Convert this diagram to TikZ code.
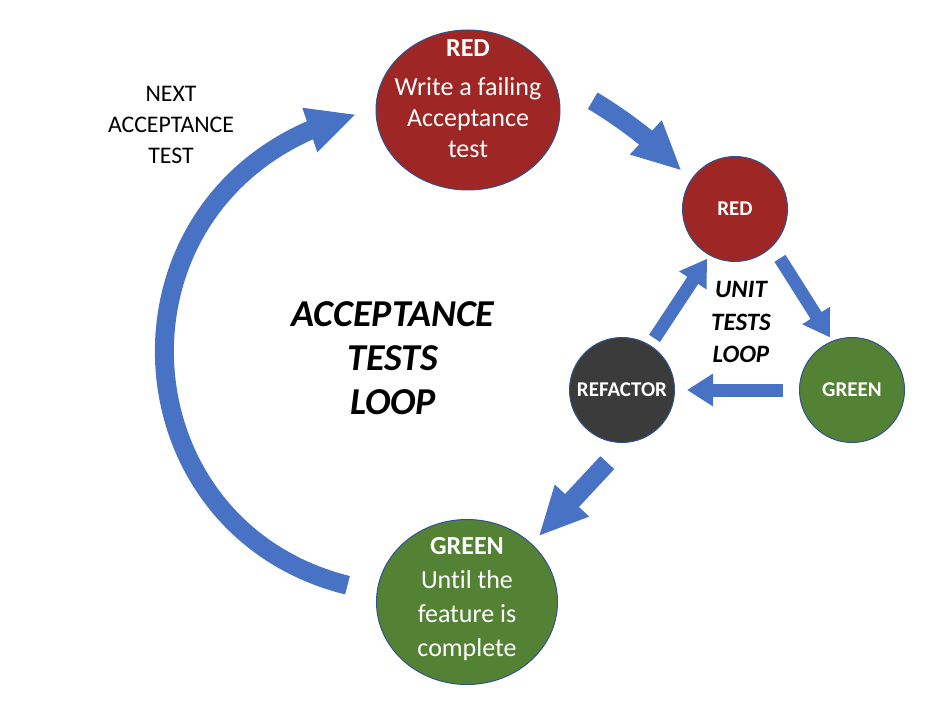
\documentclass[tikz,border=0pt]{standalone}
\usepackage{fontspec}
\setmainfont{Carlito}[Ligatures={NoCommon}]
\usetikzlibrary{arrows.meta,bending,shapes.geometric}
\definecolor{tddred}{RGB}{158,38,36}
\definecolor{tddgreen}{RGB}{84,130,53}
\definecolor{tddgrey}{RGB}{59,59,59}
\definecolor{tddblue}{RGB}{72,114,196}
\definecolor{tddline}{RGB}{47,82,143}

\begin{document}
\begin{tikzpicture}[x=1pt,y=1pt,
  bigdisc/.style={draw=tddline,line width=1pt,ellipse,inner sep=0pt},
  smalldisc/.style={draw=tddline,line width=1pt,circle,minimum size=105pt,inner sep=0pt,
    text=white,font=\fontsize{21}{25}\selectfont\bfseries},
  bigtext/.style={text=white,align=center},
  bigflow/.style={draw=tddblue,line width=19pt,-{Triangle[length=49pt,width=43pt]}},
  smallflow/.style={draw=tddblue,line width=13pt,-{Triangle[length=26pt,width=31pt]}}]
\useasboundingbox (0,0) rectangle (938,-714);

\node[bigdisc,fill=tddred,minimum width=184pt,minimum height=160pt] (bigred) at (468,-110) {};
\node[bigdisc,fill=tddgreen,minimum width=181pt,minimum height=165pt] (biggreen) at (467,-602) {};
\node[smalldisc,fill=tddred] (smallred) at (735,-209) {RED};
\node[smalldisc,fill=tddgreen] (smallgreen) at (852,-390) {GREEN};
\node[smalldisc,fill=tddgrey] (refactor) at (622,-390) {REFACTOR};

\node[bigtext,font=\fontsize{26}{31}\selectfont] (bigredtext) at (468,-99)
  {\textbf{RED}\\[8pt]Write a failing\\Acceptance\\test};
\node[bigtext,font=\fontsize{26}{34}\selectfont] (biggreentext) at (467,-599)
  {\textbf{GREEN}\\Until the\\feature is\\complete};

\node[align=center,font=\fontsize{23.8}{31}\selectfont] (nexttest) at (171,-125)
  {NEXT\\ACCEPTANCE\\TEST};
\node[align=center,font=\fontsize{38}{44}\selectfont\bfseries\itshape] (accloop) at (393,-358)
  {ACCEPTANCE\\TESTS\\LOOP};
\node[align=center,font=\fontsize{25}{32.5}\selectfont\bfseries\itshape] (unitloop) at (741,-322)
  {UNIT\\TESTS\\LOOP};

% acceptance loop
\path[draw,bigflow,shorten <=30pt,shorten >=20pt] (biggreen.174) to[out=166,in=191,looseness=1.51] (bigred.west);
\path[draw,bigflow,shorten <=45pt,shorten >=13pt] (bigred.20) to[out=-29,in=133] (smallred.147);
\path[draw,bigflow,shorten <=27pt,shorten >=10pt] (refactor.274) -- (biggreen.42);

% unit tests loop
\path[draw,smallflow,shorten <=14pt,shorten >=4pt] (smallred.-45) -- (smallgreen.112);
\path[draw,smallflow,shorten <=16pt,shorten >=12pt] (smallgreen.west) -- (refactor.east);
\path[draw,smallflow,shorten <=8pt,shorten >=4pt] (refactor.58) -- (smallred.241);
\end{tikzpicture}
\end{document}
